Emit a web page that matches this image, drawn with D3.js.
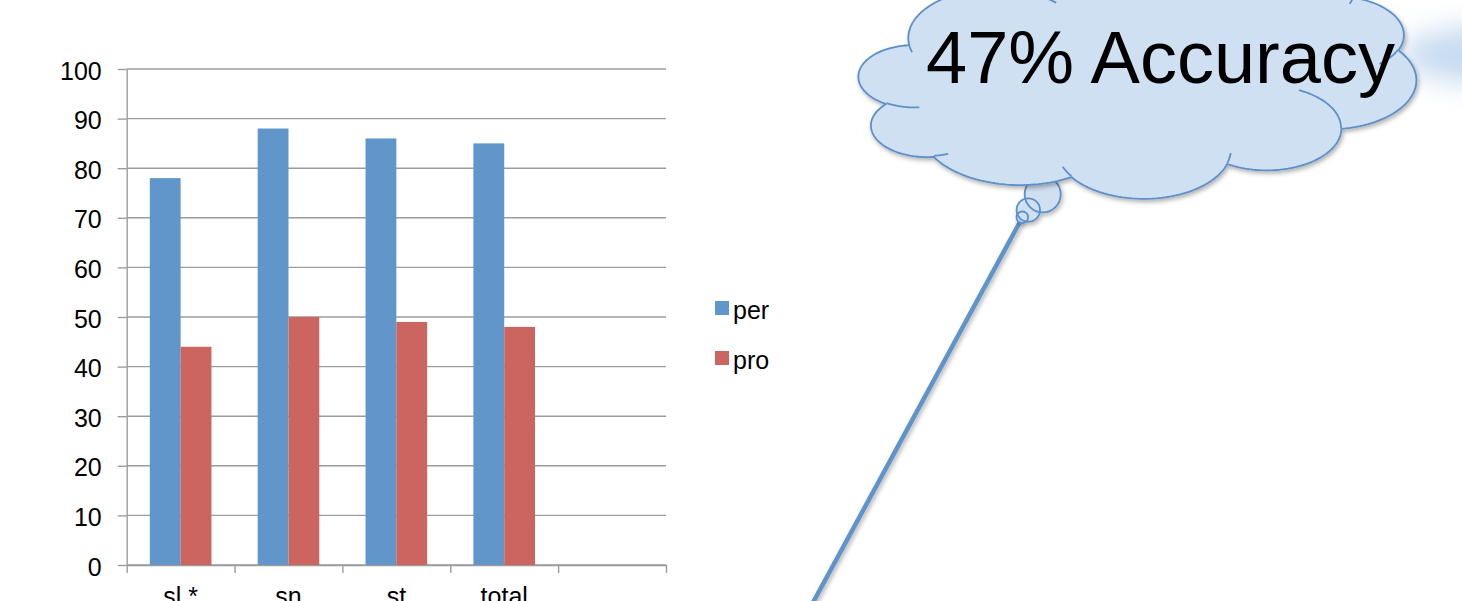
<!DOCTYPE html>
<html><head><meta charset="utf-8">
<script src="https://cdn.jsdelivr.net/npm/d3@7"></script>
<style>
html,body{margin:0;padding:0;background:#fff;overflow:hidden;}
svg{display:block;font-family:"Liberation Sans",Arial,sans-serif;}
</style></head><body>
<svg id="chart" width="1462" height="601"></svg>
<script>
// ---- data ----
const categories = ["sl *", "sn", "st", "total", ""];
const seriesNames = ["per", "pro"];
const perValues = [78, 88, 86, 85];
const proValues = [44, 50, 49, 48];
const yTickValues = [0, 10, 20, 30, 40, 50, 60, 70, 80, 90, 100];
const calloutText = "47% Accuracy";

// ---- styles ----
const colors = { per: "#6096c9", pro: "#cc655f" };
const gridColor = "#9c9c9c";
const cloudFill = "#cfe0f3";
const cloudStroke = "#5d90c9";

const svg = d3.select("#chart");
const defs = svg.append("defs");
defs.append("filter").attr("id", "blur").attr("x", "-50%").attr("y", "-100%").attr("width", "200%").attr("height", "300%")
  .append("feGaussianBlur").attr("stdDeviation", 14);
const sh = defs.append("filter").attr("id", "shadow").attr("x", "-10%").attr("y", "-10%").attr("width", "130%").attr("height", "130%");
sh.append("feDropShadow").attr("dx", 1.5).attr("dy", 2.5).attr("stdDeviation", 2).attr("flood-color", "#000").attr("flood-opacity", 0.3);

// ---- chart ----
const plot = { left: 126.7, right: 666, top: 69, bottom: 565 };
const y = d3.scaleLinear().domain([0, 100]).range([plot.bottom, plot.top]);
const x = d3.scaleBand().domain(categories).range([plot.left, plot.right])
  .paddingInner(0.4286).paddingOuter(0.2143);
const xs = d3.scaleBand().domain(seriesNames).range([0, x.bandwidth()]);
const xi = d3.scaleLinear().domain([0, categories.length]).range([plot.left, plot.right]);

// gridlines
svg.append("g").selectAll("line").data(yTickValues).join("line")
  .attr("x1", plot.left).attr("x2", plot.right)
  .attr("y1", d => y(d)).attr("y2", d => y(d))
  .attr("stroke", gridColor).attr("stroke-width", 1.4);

// y axis
const gy = svg.append("g").attr("transform", `translate(${plot.left},0)`)
  .call(d3.axisLeft(y).tickValues(yTickValues).tickSize(9).tickSizeOuter(0).tickPadding(16));
gy.selectAll("line,path").attr("stroke", gridColor).attr("stroke-width", 1.4);
gy.selectAll("text").attr("font-size", 25).attr("fill", "#000").attr("font-family", "Liberation Sans, Arial, sans-serif").attr("dy", "0.4em");

// x axis boundary ticks
const gx = svg.append("g").attr("transform", `translate(0,${plot.bottom})`)
  .call(d3.axisBottom(xi).tickValues(d3.range(categories.length + 1)).tickSize(8).tickSizeOuter(0).tickFormat(""));
gx.selectAll("line,path").attr("stroke", gridColor).attr("stroke-width", 1.4);
// x labels
const gxl = svg.append("g").attr("transform", `translate(0,${plot.bottom})`)
  .call(d3.axisBottom(x).tickSize(0).tickPadding(22));
gxl.select(".domain").remove();
gxl.selectAll("text").attr("font-size", 25).attr("fill", "#000").attr("font-family", "Liberation Sans, Arial, sans-serif");

// bars
const series = [{ name: "per", values: perValues }, { name: "pro", values: proValues }];
svg.append("g").selectAll("g").data(series).join("g")
  .attr("fill", d => colors[d.name])
  .selectAll("rect").data(d => d.values.map((v, i) => ({ s: d.name, c: categories[i], v })))
  .join("rect")
  .attr("x", d => x(d.c) + xs(d.s))
  .attr("width", xs.bandwidth())
  .attr("y", d => y(d.v))
  .attr("height", d => y(0) - y(d.v));

// legend
const lg = svg.append("g").attr("transform", "translate(715,301)");
const li = lg.selectAll("g").data(seriesNames).join("g").attr("transform", (d, i) => `translate(0,${i * 50})`);
li.append("rect").attr("width", 14).attr("height", 14).attr("fill", d => colors[d]);
li.append("text").attr("x", 18).attr("y", 18).attr("font-size", 25).text(d => d);

// ---- callout ----
// soft background glow
svg.append("ellipse").attr("cx", 1530).attr("cy", 55).attr("rx", 130).attr("ry", 32)
  .attr("fill", "#c6daf0").attr("filter", "url(#blur)");

// pointer line
svg.append("line").attr("x1", 1021).attr("y1", 220).attr("x2", 810).attr("y2", 608)
  .attr("stroke", "#5e93c9").attr("stroke-width", 4.5).attr("filter", "url(#shadow)");

// cloud preset geometry (DrawingML cloud)
const cloudArcs = [
  [6753, 9190, -11429249, 7426832], [5333, 7267, -8646143, 5396714], [4365, 5945, -8748475, 5983381],
  [4857, 6595, -7859164, 7034504], [5333, 7273, -4722533, 6541615], [6775, 9220, -2776035, 7816140],
  [5785, 7867, 37501, 6842000], [6752, 9215, 1347096, 6910353], [7720, 10543, 3974558, 4542661],
  [4360, 5918, -16496525, 8804134], [4345, 5945, -14809710, 9151131]
];
const cloudInner = [
  [4693, 26177, 4345, 5945, 5204520, 1585770], [6928, 34899, 4360, 5918, 4416628, 686848],
  [16478, 39090, 6752, 9215, 8257449, 844866], [28827, 34751, 6752, 9215, 387196, 959901],
  [34129, 22954, 5785, 7867, -4217541, 4255042], [41798, 15354, 5333, 7273, 1819082, 1665090],
  [38324, 5426, 4857, 6595, 824660, 891534], [29078, 3952, 4857, 6595, -8950887, 1091722],
  [22141, 4720, 4365, 5945, -9809656, 1061181], [14000, 5192, 6753, 9190, -4002417, 739161],
  [4127, 15789, 6753, 9190, 9459261, 711490]
];
const box = { x0: 858.8, W: 557.3, y0: -32, H: 230 };
const mx = v => box.x0 + v / 43200 * box.W;
const my = v => box.y0 + v / 43200 * box.H;
function arcPts(px, py, wR, hR, st, sw) {
  const a1 = st / 60000 * Math.PI / 180, a2 = (st + sw) / 60000 * Math.PI / 180;
  const t1 = Math.atan2(wR * Math.sin(a1), hR * Math.cos(a1));
  let t2 = Math.atan2(wR * Math.sin(a2), hR * Math.cos(a2));
  let dt = t2 - t1;
  if (sw > 0 && dt < 0) dt += 2 * Math.PI;
  if (sw < 0 && dt > 0) dt -= 2 * Math.PI;
  const cx = px - wR * Math.cos(t1), cy = py - hR * Math.sin(t1);
  const pts = [];
  const n = 40;
  for (let k = 1; k <= n; k++) {
    const t = t1 + dt * k / n;
    pts.push([cx + wR * Math.cos(t), cy + hR * Math.sin(t)]);
  }
  return pts;
}
let cur = [3900, 14370];
let dOuter = `M${mx(cur[0])},${my(cur[1])}`;
cloudArcs.forEach(a => {
  const pts = arcPts(cur[0], cur[1], a[0], a[1], a[2], a[3]);
  pts.forEach(p => { dOuter += `L${mx(p[0]).toFixed(2)},${my(p[1]).toFixed(2)}`; });
  cur = pts[pts.length - 1];
});
dOuter += "Z";
let dInner = "";
cloudInner.forEach(a => {
  dInner += `M${mx(a[0])},${my(a[1])}`;
  arcPts(a[0], a[1], a[2], a[3], a[4], a[5]).forEach(p => { dInner += `L${mx(p[0]).toFixed(2)},${my(p[1]).toFixed(2)}`; });
});

// bubbles
const bubbles = [{ cx: 1042.7, cy: 194.3, r: 18 }, { cx: 1028.3, cy: 210, r: 11.7 }, { cx: 1022.3, cy: 217.3, r: 5.8 }];
const bg = svg.append("g").attr("filter", "url(#shadow)");
bg.selectAll("circle.f").data(bubbles).join("circle").attr("class", "f")
  .attr("cx", d => d.cx).attr("cy", d => d.cy).attr("r", d => d.r).attr("fill", cloudFill).attr("fill-opacity", 0.85);
bg.selectAll("circle.s").data(bubbles).join("circle").attr("class", "s")
  .attr("cx", d => d.cx).attr("cy", d => d.cy).attr("r", d => d.r).attr("fill", "none")
  .attr("stroke", cloudStroke).attr("stroke-width", 1.8);

const cg = svg.append("g");
cg.append("path").attr("d", dOuter).attr("fill", cloudFill).attr("stroke", cloudStroke).attr("stroke-width", 1.8)
  .attr("stroke-linejoin", "round").attr("filter", "url(#shadow)");
cg.append("path").attr("d", dInner).attr("fill", "none").attr("stroke", cloudStroke).attr("stroke-width", 1.8);

svg.append("text").attr("x", 926).attr("y", 83).attr("font-size", 74).attr("fill", "#000").text(calloutText);
</script>
</body></html>
